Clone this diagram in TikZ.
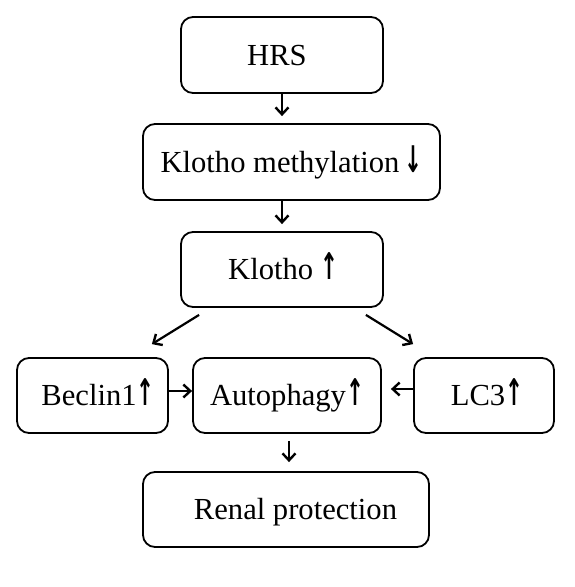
\documentclass[tikz,border=0pt]{standalone}
\usepackage{fontspec}
\setmainfont{Liberation Serif}
\newfontfamily\arrfont{DejaVu Sans}
\newcommand{\myup}{{\arrfont\bfseries\scalebox{0.7}[1.2]{↑}}}
\newcommand{\mydown}{{\arrfont\bfseries\scalebox{0.7}[1.2]{↓}}}
\usetikzlibrary{arrows.meta,calc}
\begin{document}
\begin{tikzpicture}[x=1pt,y=1pt,
  box/.style={draw,line width=1.8pt,rounded corners=12pt,inner sep=0pt,
    font=\fontsize{30.6}{36}\selectfont,text height=20pt,text depth=0pt},
  arr/.style={line width=2.2pt,-{Straight Barb[length=7pt,width=13pt,line width=2.4pt]}}]
\useasboundingbox (0,0) rectangle (575,-587);
\node[box,minimum width=202pt,minimum height=76pt] (hrs) at (282,-55) {HRS\hspace*{10pt}};
\node[box,minimum width=297pt,minimum height=76pt] (km) at (291.5,-162) {Klotho methylation\,\mydown};
\node[box,minimum width=202pt,minimum height=75pt] (kl) at (282,-269.5) {\hspace*{3pt}Klotho \myup};
\node[box,minimum width=151pt,minimum height=75pt] (bec) at (92.5,-395.5) {\hspace*{11pt}Beclin1\myup};
\node[box,minimum width=188pt,minimum height=75pt] (aut) at (287,-395.5) {Autophagy\myup};
\node[box,minimum width=140pt,minimum height=75pt] (lc3) at (484,-395.5) {\hspace*{6pt}LC3\myup};
\node[box,minimum width=286pt,minimum height=75pt] (ren) at (286,-509.5) {\hspace*{19pt}Renal protection};
\draw[arr] (hrs.south) -- ($(hrs.south |- km.north)+(0,7)$);
\draw[arr] (kl.north |- km.south) -- ($(kl.north)+(0,7)$);
\draw[arr] ($(kl.south west)+(19,-7)$) -- ($(bec.north east)+(-17,13)$);
\draw[arr] ($(kl.south east)+(-18,-7)$) -- ($(lc3.north west)+(0,13)$);
\draw[arr] ($(bec.east)+(0,4.5)$) -- ($(aut.west)+(0,4.5)$);
\draw[arr] ($(lc3.west)+(0,6.5)$) -- ($(aut.east)+(9,6.5)$);
\draw[arr] ($(aut.south)+(2,-7)$) -- ($(ren.north)+(3,9)$);
\end{tikzpicture}
\end{document}
